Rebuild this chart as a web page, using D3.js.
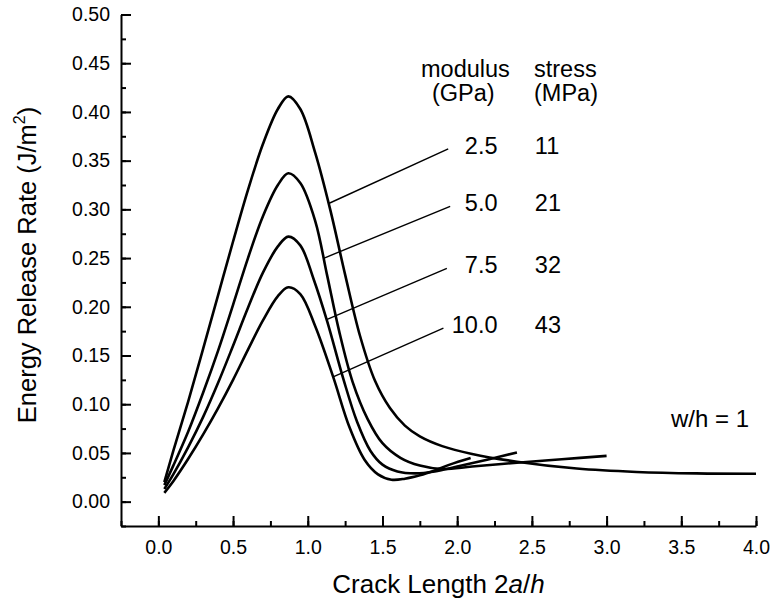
<!DOCTYPE html>
<html>
<head>
<meta charset="utf-8">
<script src="https://cdn.jsdelivr.net/npm/d3@7"></script>
<style>
  body { margin: 0; background: #fff; }
  text { font-family: Arial, "Liberation Sans", sans-serif; fill: #000; }
</style>
</head>
<body>
<svg id="chart" width="771" height="602"></svg>
<script>
// curve labels
const moduli = ["2.5", "5.0", "7.5", "10.0"];
const stresses = ["11", "21", "32", "43"];

// E = 2.5 GPa
const x25 = [0.04, 0.1, 0.2, 0.3, 0.4, 0.5, 0.6, 0.7, 0.8, 0.87, 0.95, 1.05, 1.15, 1.25, 1.35, 1.45, 1.55, 1.65, 1.75, 1.9, 2.1, 2.4, 2.8, 3.2, 3.6, 4.0];
const y25 = [0.020, 0.052, 0.103, 0.157, 0.212, 0.267, 0.320, 0.367, 0.403, 0.416, 0.403, 0.358, 0.300, 0.233, 0.170, 0.124, 0.096, 0.078, 0.067, 0.057, 0.049, 0.041, 0.034, 0.0305, 0.029, 0.0287];
// E = 5.0 GPa
const x50 = [0.04, 0.1, 0.2, 0.3, 0.4, 0.5, 0.6, 0.7, 0.8, 0.87, 0.95, 1.05, 1.13, 1.21, 1.3, 1.4, 1.5, 1.62, 1.75, 1.9, 2.1, 2.4, 2.7, 3.0];
const y50 = [0.017, 0.037, 0.072, 0.112, 0.155, 0.202, 0.250, 0.293, 0.325, 0.337, 0.327, 0.288, 0.232, 0.175, 0.123, 0.085, 0.060, 0.045, 0.037, 0.0335, 0.036, 0.040, 0.0435, 0.047];
// E = 7.5 GPa
const x75 = [0.04, 0.1, 0.2, 0.3, 0.4, 0.5, 0.6, 0.7, 0.8, 0.87, 0.95, 1.04, 1.13, 1.24, 1.33, 1.42, 1.5, 1.6, 1.72, 1.85, 2.0, 2.2, 2.4];
const y75 = [0.013, 0.028, 0.056, 0.087, 0.122, 0.160, 0.199, 0.235, 0.262, 0.272, 0.263, 0.228, 0.185, 0.125, 0.082, 0.052, 0.038, 0.031, 0.029, 0.031, 0.036, 0.043, 0.0505];
// E = 10.0 GPa
const x100 = [0.04, 0.1, 0.2, 0.3, 0.4, 0.5, 0.6, 0.7, 0.8, 0.87, 0.95, 1.05, 1.17, 1.28, 1.38, 1.47, 1.56, 1.65, 1.75, 1.85, 1.95, 2.09];
const y100 = [0.009, 0.021, 0.044, 0.069, 0.096, 0.125, 0.156, 0.186, 0.211, 0.220, 0.213, 0.180, 0.128, 0.076, 0.043, 0.028, 0.0225, 0.0235, 0.027, 0.032, 0.038, 0.0448];

// leader lines: point on curve -> label end (data units)
const leaderFromX = [1.14, 1.11, 1.13, 1.17];
const leaderFromY = [0.306, 0.250, 0.187, 0.128];
const leaderToX = [1.94, 1.953, 1.931, 1.908];
const leaderToY = [0.362, 0.303, 0.2395, 0.178];

const xTicks = [0, 0.5, 1, 1.5, 2, 2.5, 3, 3.5, 4];
const xTickLabels = ["0.0", "0.5", "1.0", "1.5", "2.0", "2.5", "3.0", "3.5", "4.0"];
const yTicks = [0, 0.05, 0.1, 0.15, 0.2, 0.25, 0.3, 0.35, 0.4, 0.45, 0.5];
const yTickLabels = ["0.00", "0.05", "0.10", "0.15", "0.20", "0.25", "0.30", "0.35", "0.40", "0.45", "0.50"];

const width = 771, height = 602;
const margin = { top: 14.5, right: 15, bottom: 76, left: 121 };
const font = "Arial, 'Liberation Sans', sans-serif";

const svg = d3.select("#chart");

const x = d3.scaleLinear()
    .domain([-0.25, 4.0])
    .range([margin.left, width - margin.right]);
const y = d3.scaleLinear()
    .domain([-0.025, 0.5])
    .range([height - margin.bottom, margin.top]);

// minor ticks first, then major axes on top
svg.append("g")
    .attr("transform", `translate(0,${height - margin.bottom})`)
    .call(d3.axisBottom(x).tickValues(d3.range(-0.25, 4.01, 0.25)).tickSize(-5).tickSizeOuter(0).tickFormat(""))
    .call(g => g.select(".domain").remove())
    .selectAll("line").attr("stroke-width", 2);
svg.append("g")
    .attr("transform", `translate(${margin.left},0)`)
    .call(d3.axisLeft(y).tickValues(d3.range(-0.025, 0.501, 0.025)).tickSize(-5).tickSizeOuter(0).tickFormat(""))
    .call(g => g.select(".domain").remove())
    .selectAll("line").attr("stroke-width", 2);

const xAxis = svg.append("g")
    .attr("transform", `translate(0,${height - margin.bottom})`)
    .call(d3.axisBottom(x).tickValues(xTicks).tickSize(-10).tickSizeOuter(0).tickPadding(14)
        .tickFormat((d, i) => xTickLabels[i]));
xAxis.select(".domain").attr("stroke-width", 2);
xAxis.selectAll("line").attr("stroke-width", 2);
xAxis.selectAll("text").attr("font-size", 19.5).attr("font-family", font);

const yAxis = svg.append("g")
    .attr("transform", `translate(${margin.left},0)`)
    .call(d3.axisLeft(y).tickValues(yTicks).tickSize(-10).tickSizeOuter(0).tickPadding(11)
        .tickFormat((d, i) => yTickLabels[i]));
yAxis.select(".domain").attr("stroke-width", 2);
yAxis.selectAll("line").attr("stroke-width", 2);
yAxis.selectAll("text").attr("font-size", 19.5).attr("font-family", font);

// curves
const series = [[x25, y25], [x50, y50], [x75, y75], [x100, y100]];
const line = d3.line()
    .x(d => x(d[0]))
    .y(d => y(d[1]))
    .curve(d3.curveCatmullRom.alpha(0.5));

svg.selectAll(".curve")
    .data(series)
    .enter()
    .append("path")
    .attr("class", "curve")
    .attr("d", s => line(s[0].map((v, i) => [v, s[1][i]])))
    .attr("fill", "none")
    .attr("stroke", "#000")
    .attr("stroke-width", 2.6)
    .attr("stroke-linejoin", "round");

// leader lines
svg.selectAll(".leader")
    .data(moduli)
    .enter()
    .append("line")
    .attr("class", "leader")
    .attr("x1", (d, i) => x(leaderFromX[i]))
    .attr("y1", (d, i) => y(leaderFromY[i]))
    .attr("x2", (d, i) => x(leaderToX[i]))
    .attr("y2", (d, i) => y(leaderToY[i]))
    .attr("stroke", "#000")
    .attr("stroke-width", 1.4);

// table of labels
const labelSize = 23.5;
svg.selectAll(".modlabel")
    .data(moduli)
    .enter()
    .append("text")
    .attr("x", x(2.27))
    .attr("y", (d, i) => y(leaderToY[i]) + 5)
    .attr("text-anchor", "end")
    .attr("font-size", labelSize)
    .text(d => d);
svg.selectAll(".stresslabel")
    .data(stresses)
    .enter()
    .append("text")
    .attr("x", x(2.52))
    .attr("y", (d, i) => y(leaderToY[i]) + 5)
    .attr("font-size", labelSize)
    .text(d => d);

svg.append("text").attr("x", 421).attr("y", 77).attr("font-size", labelSize).text("modulus");
svg.append("text").attr("x", 432).attr("y", 101).attr("font-size", labelSize).text("(GPa)");
svg.append("text").attr("x", 534).attr("y", 77).attr("font-size", labelSize).text("stress");
svg.append("text").attr("x", 534).attr("y", 101).attr("font-size", labelSize).text("(MPa)");

svg.append("text")
    .attr("x", 749).attr("y", 427)
    .attr("text-anchor", "end")
    .attr("font-size", 24)
    .text("w/h = 1");

// axis titles
const xt = svg.append("text")
    .attr("x", (margin.left + width - margin.right) / 2)
    .attr("y", 593)
    .attr("text-anchor", "middle")
    .attr("font-size", 26);
xt.append("tspan").text("Crack Length 2");
xt.append("tspan").attr("font-style", "italic").text("a");
xt.append("tspan").text("/");
xt.append("tspan").attr("font-style", "italic").text("h");

const yt = svg.append("text")
    .attr("transform", "translate(36,265) rotate(-90)")
    .attr("text-anchor", "middle")
    .attr("font-size", 25.5);
yt.append("tspan").text("Energy Release Rate (J/m");
yt.append("tspan").attr("font-size", 16).attr("dy", -11).text("2");
yt.append("tspan").attr("dy", 11).text(")");
</script>
</body>
</html>
